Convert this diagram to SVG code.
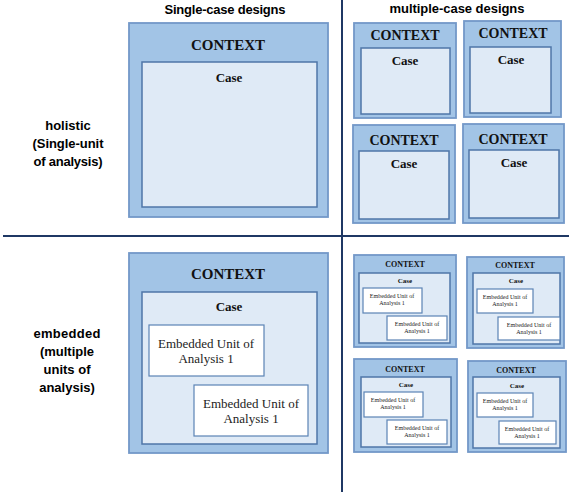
<svg xmlns="http://www.w3.org/2000/svg" width="569" height="492" viewBox="0 0 569 492">
<style>
.ctx{fill:#a2c4e6;stroke:#7398c8;stroke-width:1.8}
.case{fill:#dfeaf6;stroke:#4f76a8;stroke-width:1.5}
.emb{fill:#ffffff;stroke:#5b83b5;stroke-width:1.2}
.div{stroke:#1f3864;stroke-width:2}
.hd{font-family:"Liberation Sans",Arial,sans-serif;font-weight:bold;font-size:13px;fill:#000;text-anchor:middle}
.lbl{font-family:"Liberation Sans",Arial,sans-serif;font-weight:bold;font-size:13px;fill:#000;text-anchor:middle}
.ct{font-family:"Liberation Serif","Times New Roman",serif;font-weight:bold;fill:#111;text-anchor:middle}
.et{font-family:"Liberation Serif","Times New Roman",serif;fill:#222;text-anchor:middle}
</style>
<rect width="569" height="492" fill="#ffffff"/>
<g id="dividers">
<line class="div" x1="342" y1="0" x2="342" y2="492"/>
<line class="div" x1="3" y1="236" x2="569" y2="236"/>
</g>
<g id="headers">
<text class="hd" x="225" y="14" textLength="121">Single-case designs</text>
<text class="hd" x="457" y="13" textLength="135">multiple-case designs</text>
</g>
<g id="row-labels">
<text class="lbl" x="68" y="130">holistic</text>
<text class="lbl" x="68" y="148" textLength="71">(Single-unit</text>
<text class="lbl" x="68" y="166" textLength="69">of analysis)</text>
<text class="lbl" x="67" y="338" textLength="67">embedded</text>
<text class="lbl" x="67" y="356">(multiple</text>
<text class="lbl" x="67" y="374">units of</text>
<text class="lbl" x="67" y="392">analysis)</text>
</g>
<g id="single-holistic">
<rect class="ctx" x="129" y="23" width="199" height="194"/>
<text class="ct" x="228" y="50" font-size="15">CONTEXT</text>
<rect class="case" x="142" y="62" width="175" height="145"/>
<text class="ct" x="229" y="82" font-size="13">Case</text>
</g>
<g id="multi-holistic-1">
<rect class="ctx" x="354" y="23" width="102" height="95"/>
<text class="ct" x="405" y="40" font-size="14">CONTEXT</text>
<rect class="case" x="361" y="48" width="89" height="66"/>
<text class="ct" x="405" y="65" font-size="13">Case</text>
</g>
<g id="multi-holistic-2">
<rect class="ctx" x="464" y="21" width="97" height="96"/>
<text class="ct" x="513" y="38" font-size="14">CONTEXT</text>
<rect class="case" x="470" y="47" width="81" height="66"/>
<text class="ct" x="511" y="64" font-size="13">Case</text>
</g>
<g id="multi-holistic-3">
<rect class="ctx" x="353" y="125" width="102" height="98"/>
<text class="ct" x="404" y="145" font-size="14">CONTEXT</text>
<rect class="case" x="359" y="151" width="90" height="68"/>
<text class="ct" x="404" y="168" font-size="13">Case</text>
</g>
<g id="multi-holistic-4">
<rect class="ctx" x="463" y="124" width="101" height="99"/>
<text class="ct" x="513" y="144" font-size="14">CONTEXT</text>
<rect class="case" x="469" y="150" width="90" height="68"/>
<text class="ct" x="514" y="167" font-size="13">Case</text>
</g>
<g id="single-embedded">
<rect class="ctx" x="129" y="253" width="199" height="200"/>
<text class="ct" x="228" y="279" font-size="15">CONTEXT</text>
<rect class="case" x="142" y="292" width="175" height="152"/>
<text class="ct" x="229" y="311" font-size="13">Case</text>
<rect class="emb" x="149" y="325" width="115" height="51"/>
<text class="et" x="206" y="348" font-size="13">Embedded Unit of</text>
<text class="et" x="206" y="363" font-size="13">Analysis 1</text>
<rect class="emb" x="194" y="385" width="114" height="51"/>
<text class="et" x="251" y="408" font-size="13">Embedded Unit of</text>
<text class="et" x="251" y="423" font-size="13">Analysis 1</text>
</g>
<g id="multi-embedded-1">
<rect class="ctx" x="354" y="255" width="102" height="92"/>
<text class="ct" x="405" y="267" font-size="8">CONTEXT</text>
<rect class="case" x="359" y="273" width="91" height="70"/>
<text class="ct" x="405" y="283" font-size="7">Case</text>
<rect class="emb" x="363" y="288" width="59" height="25"/>
<text class="et" x="392" y="298" font-size="6">Embedded Unit of</text>
<text class="et" x="392" y="305" font-size="6">Analysis 1</text>
<rect class="emb" x="387" y="316" width="60" height="24"/>
<text class="et" x="417" y="326" font-size="6">Embedded Unit of</text>
<text class="et" x="417" y="333" font-size="6">Analysis 1</text>
</g>
<g id="multi-embedded-2">
<rect class="ctx" x="467" y="257" width="97" height="91"/>
<text class="ct" x="515" y="268" font-size="8">CONTEXT</text>
<rect class="case" x="473" y="273" width="87" height="71"/>
<text class="ct" x="516" y="283" font-size="7">Case</text>
<rect class="emb" x="477" y="289" width="56" height="24"/>
<text class="et" x="505" y="299" font-size="6">Embedded Unit of</text>
<text class="et" x="505" y="306" font-size="6">Analysis 1</text>
<rect class="emb" x="498" y="317" width="62" height="23"/>
<text class="et" x="529" y="327" font-size="6">Embedded Unit of</text>
<text class="et" x="529" y="334" font-size="6">Analysis 1</text>
</g>
<g id="multi-embedded-3">
<rect class="ctx" x="354" y="359" width="103" height="93"/>
<text class="ct" x="405" y="372" font-size="8">CONTEXT</text>
<rect class="case" x="361" y="377" width="90" height="70"/>
<text class="ct" x="406" y="387" font-size="7">Case</text>
<rect class="emb" x="364" y="392" width="59" height="25"/>
<text class="et" x="393" y="402" font-size="6">Embedded Unit of</text>
<text class="et" x="393" y="409" font-size="6">Analysis 1</text>
<rect class="emb" x="387" y="420" width="60" height="24"/>
<text class="et" x="417" y="430" font-size="6">Embedded Unit of</text>
<text class="et" x="417" y="437" font-size="6">Analysis 1</text>
</g>
<g id="multi-embedded-4">
<rect class="ctx" x="468" y="361" width="98" height="91"/>
<text class="ct" x="516" y="373" font-size="8">CONTEXT</text>
<rect class="case" x="473" y="377" width="87" height="71"/>
<text class="ct" x="517" y="388" font-size="7">Case</text>
<rect class="emb" x="477" y="393" width="56" height="24"/>
<text class="et" x="505" y="403" font-size="6">Embedded Unit of</text>
<text class="et" x="505" y="410" font-size="6">Analysis 1</text>
<rect class="emb" x="499" y="421" width="57" height="23"/>
<text class="et" x="527" y="431" font-size="6">Embedded Unit of</text>
<text class="et" x="527" y="438" font-size="6">Analysis 1</text>
</g>
</svg>
